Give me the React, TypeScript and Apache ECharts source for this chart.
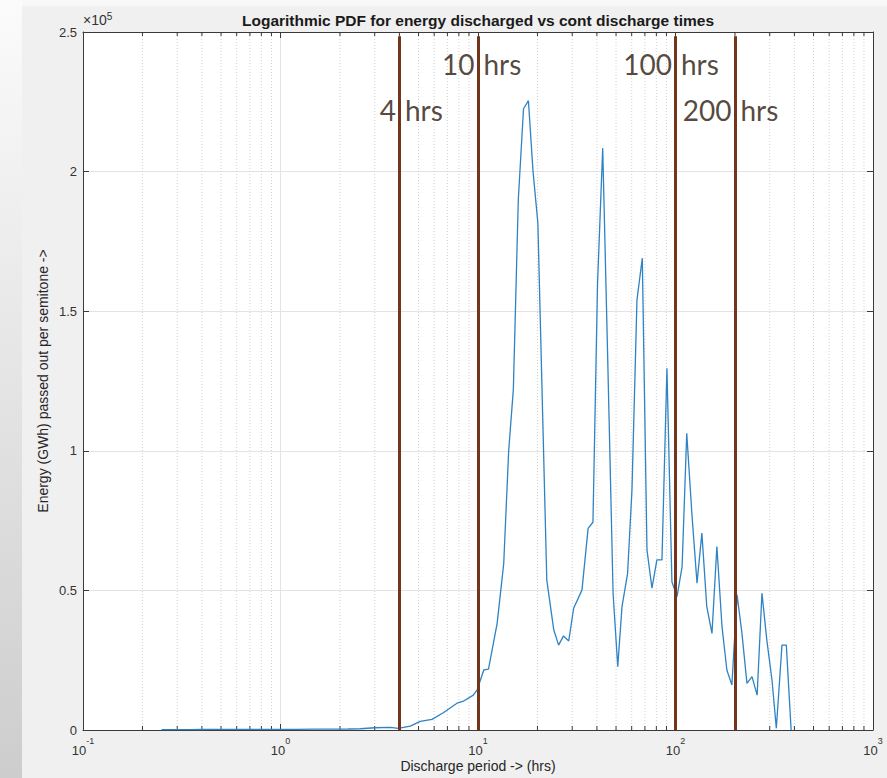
import React, { useEffect, useRef } from 'react';
import * as echarts from 'echarts';

// Discharge period (hrs)
const dischargeHours = [
  0.25, 0.3, 0.35, 0.4, 0.5, 0.6, 0.7, 0.8, 1.0, 1.2, 1.5, 1.8, 2.2, 2.54, 3.0, 3.6, 3.95,
  4.54, 5.1, 5.85, 6.67, 7.83, 8.43, 9.47, 9.89, 10.7, 11.3, 12.5, 13.5, 14.3, 15.1, 16.0,
  17.0, 18.0, 19.0, 20.1, 21.3, 22.3, 24.2, 25.6, 27.1, 28.8, 30.5, 33.6, 36.1, 38.2, 40.3,
  42.8, 45.3, 48.3, 51.0, 53.6, 57.2, 60.2, 63.8, 67.9, 71.7, 76.0, 80.5, 85.4, 90.5, 95.9,
  101.8, 108, 114, 121, 128.5, 136, 144, 153, 162, 172, 182, 193, 205, 217, 230, 244, 259,
  274, 290, 308, 324, 346, 364, 385,
];
// Energy (GWh) passed out per semitone
const energyGWh = [
  150, 150, 150, 180, 200, 200, 220, 220, 250, 250, 280, 300, 350, 450, 800, 960, 600,
  1400, 3100, 3800, 6200, 9600, 10300, 12500, 14300, 21500, 21800, 38200, 59700, 100000, 122000, 190000,
  222500, 225400, 200000, 181500, 110000, 53700, 35800, 30400, 33700, 31900, 43600, 50100, 72200, 74400, 160000,
  208400, 135000, 49000, 22700, 44200, 56100, 86000, 154000, 169000, 64500, 50800, 60900, 60900, 129600, 53100,
  47800, 58500, 106300, 77600, 52600, 70500, 44200, 34600, 65700, 37000, 21500, 16100, 48400, 34600, 16700, 19100, 12500,
  49000, 32200, 17900, 600, 30400, 30400, 0,
];

// Reference lines and their annotations
const markerHours = [4, 10, 100, 200];
const markerNumbers = ['4', '10', '100', '200'];
const markerLabelLevel = [222000, 238500, 238500, 222000];
const markerTop = 248500;

// Minor log ticks (2..9 x 10^k)
const minorTickHours = [
  0.2, 0.3, 0.4, 0.5, 0.6, 0.7, 0.8, 0.9,
  2, 3, 4, 5, 6, 7, 8, 9,
  20, 30, 40, 50, 60, 70, 80, 90,
  200, 300, 400, 500, 600, 700, 800, 900,
];

const X_MIN = 0.1;
const X_MAX = 1000;
const Y_MAX = 250000;
const Y_STEP = 50000;

const AXIS_COLOR = '#3a3a3a';
const LABEL_COLOR = '#333333';
const FONT = '"Liberation Sans", Arial, sans-serif';
const NOTE_FONT = 'Lato, "Open Sans", sans-serif';
const NOTE_COLOR = '#2b180c';

export default function App() {
  const ref = useRef<HTMLDivElement>(null);

  useEffect(() => {
    const chart = echarts.init(ref.current!, null, { renderer: 'svg' });

    const lineData = dischargeHours.map((h, i) => [h, energyGWh[i]]);
    const labelData = markerHours.map((h, i) => [h, markerLabelLevel[i]]);

    const option: any = {
      animation: false,
      backgroundColor: '#f0f0f0',
      title: {
        text: 'Logarithmic PDF for energy discharged vs cont discharge times',
        left: 478,
        top: 12,
        padding: 0,
        textAlign: 'center',
        textStyle: { fontFamily: FONT, fontSize: 15.5, fontWeight: 'bold', color: '#1a1a1a' },
      },
      graphic: [
        {
          type: 'rect',
          left: 0,
          top: 0,
          shape: { width: 22, height: 778 },
          style: {
            fill: new echarts.graphic.LinearGradient(0, 0, 0, 1, [
              { offset: 0, color: '#fbfbfb' },
              { offset: 1, color: '#cdcdcd' },
            ]),
          },
          silent: true,
          z: -10,
        },
        {
          type: 'rect',
          left: 22,
          top: 0,
          shape: { width: 865, height: 6 },
          style: { fill: '#f8f8f8' },
          silent: true,
          z: -10,
        },
        {
          type: 'text',
          left: 83,
          top: 11,
          style: {
            text: '×10{sup|5}',
            fontFamily: FONT,
            fontSize: 14,
            fill: LABEL_COLOR,
            rich: {
              sup: { fontSize: 10, fontFamily: FONT, fill: LABEL_COLOR, verticalAlign: 'top', lineHeight: 10 },
            },
            lineHeight: 18,
          },
        },
      ],
      grid: {
        left: 83,
        right: 14,
        top: 32,
        bottom: 48,
        show: true,
        backgroundColor: '#ffffff',
        borderWidth: 0,
        containLabel: false,
        outerBoundsMode: 'none',
      },
      xAxis: [
        {
          type: 'log',
          logBase: 10,
          min: X_MIN,
          max: X_MAX,
          position: 'bottom',
          name: 'Discharge period -> (hrs)',
          nameLocation: 'middle',
          nameGap: 29,
          nameMoveOverlap: false,
          nameTextStyle: { fontFamily: FONT, fontSize: 14, color: '#262626' },
          axisLine: { show: true, onZero: false, lineStyle: { color: AXIS_COLOR, width: 1 } },
          axisTick: { show: true, inside: true, length: 6, lineStyle: { color: AXIS_COLOR } },
          axisLabel: {
            margin: 6,
            showMinLabel: true,
            showMaxLabel: true,
            formatter: (v: number) => `{b|10}{sup|${Math.round(Math.log10(v))}}`,
            rich: {
              b: { fontFamily: FONT, fontSize: 13, color: LABEL_COLOR, lineHeight: 21, verticalAlign: 'bottom' },
              sup: { fontFamily: FONT, fontSize: 9, color: LABEL_COLOR, lineHeight: 9, verticalAlign: 'top' },
            },
          },
          splitLine: { show: true, lineStyle: { color: '#e3e3e3', width: 1 } },
        },
        {
          type: 'log',
          logBase: 10,
          min: X_MIN,
          max: X_MAX,
          position: 'top',
          axisLine: { show: true, onZero: false, lineStyle: { color: AXIS_COLOR, width: 1 } },
          axisTick: { show: true, inside: true, length: 6, lineStyle: { color: AXIS_COLOR } },
          axisLabel: { show: false },
          splitLine: { show: false },
        },
      ],
      yAxis: [
        {
          type: 'value',
          min: 0,
          max: Y_MAX,
          interval: Y_STEP,
          position: 'left',
          name: 'Energy (GWh) passed out per semitone ->',
          nameLocation: 'middle',
          nameGap: 33,
          nameMoveOverlap: false,
          nameRotate: 90,
          nameTextStyle: { fontFamily: FONT, fontSize: 14, color: '#262626' },
          axisLine: { show: true, onZero: false, lineStyle: { color: AXIS_COLOR, width: 1 } },
          axisTick: { show: true, inside: true, length: 6, lineStyle: { color: AXIS_COLOR } },
          axisLabel: {
            margin: 6,
            fontFamily: FONT,
            fontSize: 13,
            color: LABEL_COLOR,
            formatter: (v: number) => (v === 0 ? '0' : String(v / 100000)),
          },
          splitLine: { show: true, lineStyle: { color: '#e3e3e3', width: 1 } },
        },
        {
          type: 'value',
          min: 0,
          max: Y_MAX,
          interval: Y_STEP,
          position: 'right',
          axisLine: { show: true, onZero: false, lineStyle: { color: AXIS_COLOR, width: 1 } },
          axisTick: { show: true, inside: true, length: 6, lineStyle: { color: AXIS_COLOR } },
          axisLabel: { show: false },
          splitLine: { show: false },
        },
      ],
      series: [
        {
          type: 'custom',
          name: 'minor',
          xAxisIndex: 0,
          yAxisIndex: 0,
          silent: true,
          z: 1,
          clip: false,
          data: minorTickHours.map((h) => [h, 0]),
          encode: { x: 0, y: 1 },
          renderItem: (params: any, api: any) => {
            const v = api.value(0);
            const b = api.coord([v, 0]);
            const t = api.coord([v, Y_MAX]);
            return {
              type: 'group',
              children: [
                {
                  type: 'line',
                  shape: { x1: b[0], y1: b[1], x2: t[0], y2: t[1] },
                  style: { stroke: '#d2d2d2', lineWidth: 1, lineDash: [1, 2] },
                },
                {
                  type: 'line',
                  shape: { x1: b[0], y1: b[1], x2: b[0], y2: b[1] - 4 },
                  style: { stroke: AXIS_COLOR, lineWidth: 1 },
                },
                {
                  type: 'line',
                  shape: { x1: t[0], y1: t[1], x2: t[0], y2: t[1] + 4 },
                  style: { stroke: AXIS_COLOR, lineWidth: 1 },
                },
              ],
            };
          },
        },
        {
          type: 'line',
          name: 'energy',
          xAxisIndex: 0,
          yAxisIndex: 0,
          data: lineData,
          showSymbol: false,
          symbol: 'none',
          z: 3,
          lineStyle: { color: '#2e83c4', width: 1.3 },
        },
        {
          type: 'scatter',
          name: 'markerNumbers',
          xAxisIndex: 0,
          yAxisIndex: 0,
          data: labelData,
          symbolSize: 1,
          itemStyle: { color: 'transparent' },
          z: 5,
          label: {
            show: true,
            position: 'left',
            distance: 3,
            formatter: (p: any) => markerNumbers[p.dataIndex],
            fontFamily: NOTE_FONT,
            fontSize: 28,
            color: NOTE_COLOR,
          },
          markLine: {
            silent: true,
            symbol: ['none', 'none'],
            label: { show: false },
            lineStyle: { color: '#74351a', width: 3, type: 'solid' },
            data: markerHours.map((h) => [{ coord: [h, 0] }, { coord: [h, markerTop] }]),
          },
        },
        {
          type: 'scatter',
          name: 'markerUnits',
          xAxisIndex: 0,
          yAxisIndex: 0,
          data: labelData,
          symbolSize: 1,
          itemStyle: { color: 'transparent' },
          z: 5,
          label: {
            show: true,
            position: 'right',
            distance: 5,
            formatter: () => 'hrs',
            fontFamily: NOTE_FONT,
            fontSize: 28,
            color: NOTE_COLOR,
          },
        },
      ],
    };

    chart.setOption(option);
    return () => chart.dispose();
  }, []);

  return (
    <div
      ref={ref}
      style={{ position: 'fixed', left: 0, top: 0, width: 887, height: 778 }}
    />
  );
}
